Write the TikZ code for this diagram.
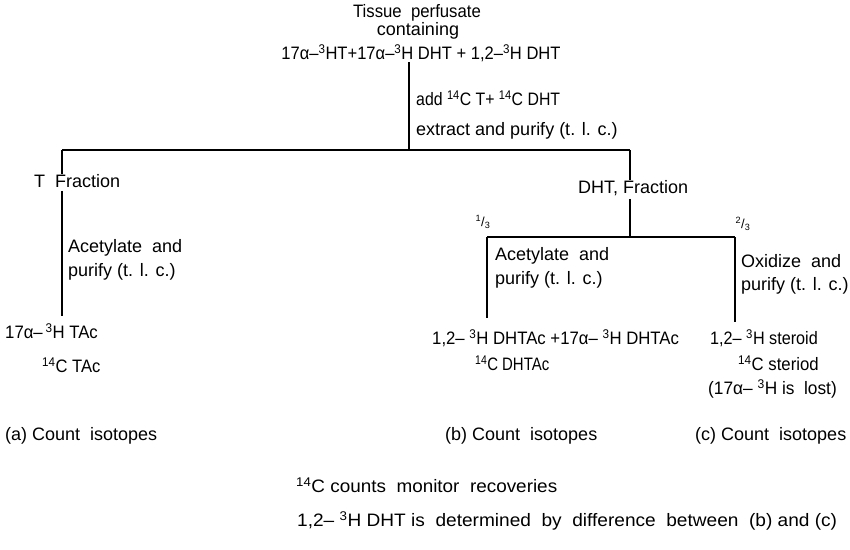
\documentclass[tikz,border=0pt]{standalone}
\usepackage{fontspec}
\setmainfont{Liberation Sans}
\usetikzlibrary{calc}
\newcommand{\iso}[2]{\textsuperscript{#1}#2}
\newcommand{\squeeze}[2]{\scalebox{#1}[1]{#2}}
\tikzset{
  lbl/.style={inner sep=0pt, font=\fontsize{18}{21}\selectfont},
  lft/.style={lbl, anchor=west},
  flow/.style={line width=1.1pt, color=black}
}
\begin{document}
\begin{tikzpicture}[x=1pt,y=-1pt]
			%%%%% START %%%%%
			\useasboundingbox (0,0) rectangle (850,549);
			
			% top block
			\node[lbl] (tissue) at (417,13) {\squeeze{0.93}{Tissue\ \ perfusate}};
			\node[lbl] (contain) at (418,31) {containing};
			\node[lbl] (mix) at (421,53) {\squeeze{0.92}{17α–\iso{3}{H}T+17α–\iso{3}{H} DHT + 1,2–\iso{3}{H} DHT}};
			\node[lft] (add) at (416,98) {\squeeze{0.88}{add \iso{14}{C} T+ \iso{14}{C} DHT}};
			\node[lft] (extract) at (416,131) {extract\ and\ purify (t. l. c.)};
			
			\coordinate (top) at (409,62);
			\coordinate (split) at (409,150);
			\coordinate (tl) at (62,150);
			\coordinate (tr) at (630,150);
			
			\draw[flow] (top) -- (split);
			\draw[flow] (tl) -- (tr);
			
			% T fraction
			\node[lft] (tfrac) at (34,181) {T\ \ Fraction};
			\node[lft] (acetA) at (68,248) {Acetylate\ \ and};
			\node[lft] (purA) at (68,272) {purify (t. l. c.)};
			\node[lft] (tac) at (5,331) {\squeeze{0.93}{17α–\,\iso{3}{H} TAc}};
			\node[lft] (ctac) at (42,365) {\squeeze{0.92}{\iso{14}{C} TAc}};
			\node[lft] (cntA) at (5,436) {(a) Count\ \ isotopes};
			
			\draw[flow] (tl) -- (tl |- tfrac.north);
			\draw[flow] ($(tl |- tfrac.south)+(0,3)$) -- (tl |- 0,316);
			
			% DHT fraction
			\node[lft] (dfrac) at (578,188) {DHT, Fraction};
			\coordinate (sl) at (487,237);
			\coordinate (sr) at (735,237);
			\node[lbl] (third) at (483,222) {\fontsize{13}{13}\selectfont\textsuperscript{1}/\textsubscript{3}};
			\node[lbl] (twothird) at (743,224) {\fontsize{13}{13}\selectfont\textsuperscript{2}/\textsubscript{3}};
			
			\draw[flow] (tr) -- (tr |- dfrac.north);
			\draw[flow] ($(tr |- dfrac.south)+(0,3)$) -- (tr |- sl);
			\draw[flow] (sl) -- (sr);
			
			% acetylate branch
			\node[lft] (acetB) at (495,256) {Acetylate\ \ and};
			\node[lft] (purB) at (495,280) {purify (t. l. c.)};
			\node[lft] (dhtac) at (432,338) {\squeeze{0.93}{1,2– \iso{3}{H} DHTAc +17α– \iso{3}{H} DHTAc}};
			\node[lft] (cdhtac) at (475,363) {\squeeze{0.83}{\iso{14}{C} DHTAc}};
			\node[lft] (cntB) at (445,436) {(b) Count\ \ isotopes};
			\draw[flow] (sl) -- (sl |- 0,318);
			
			% oxidize branch
			\node[lft] (oxid) at (741,261) {Oxidize\ \ and};
			\node[lft] (purC) at (741,286) {purify (t. l. c.)};
			\node[lft] (ster) at (710,338) {\squeeze{0.9}{1,2– \iso{3}{H} steroid}};
			\node[lft] (cster) at (738,363) {\squeeze{0.93}{\iso{14}{C} steriod}};
			\node[lft] (lost) at (708,389) {\squeeze{0.96}{(17α– \iso{3}{H} is\ \ lost)}};
			\node[lft] (cntC) at (695,436) {(c) Count\ \ isotopes};
			\draw[flow] (sr) -- (sr |- 0,322);
			
			% notes
			\node[lft] (monitor) at (296,485) {\squeeze{1.05}{\iso{14}{C} counts\ \ monitor\ \ recoveries}};
			\node[lft] (diff) at (297,521) {\squeeze{1.06}{1,2– \iso{3}{H} DHT\ is\ \ determined\ \ by\ \ difference\ \ between\ \ (b) and (c)}};
			
			%%%%% END %%%%%
		\end{tikzpicture}
\end{document}
